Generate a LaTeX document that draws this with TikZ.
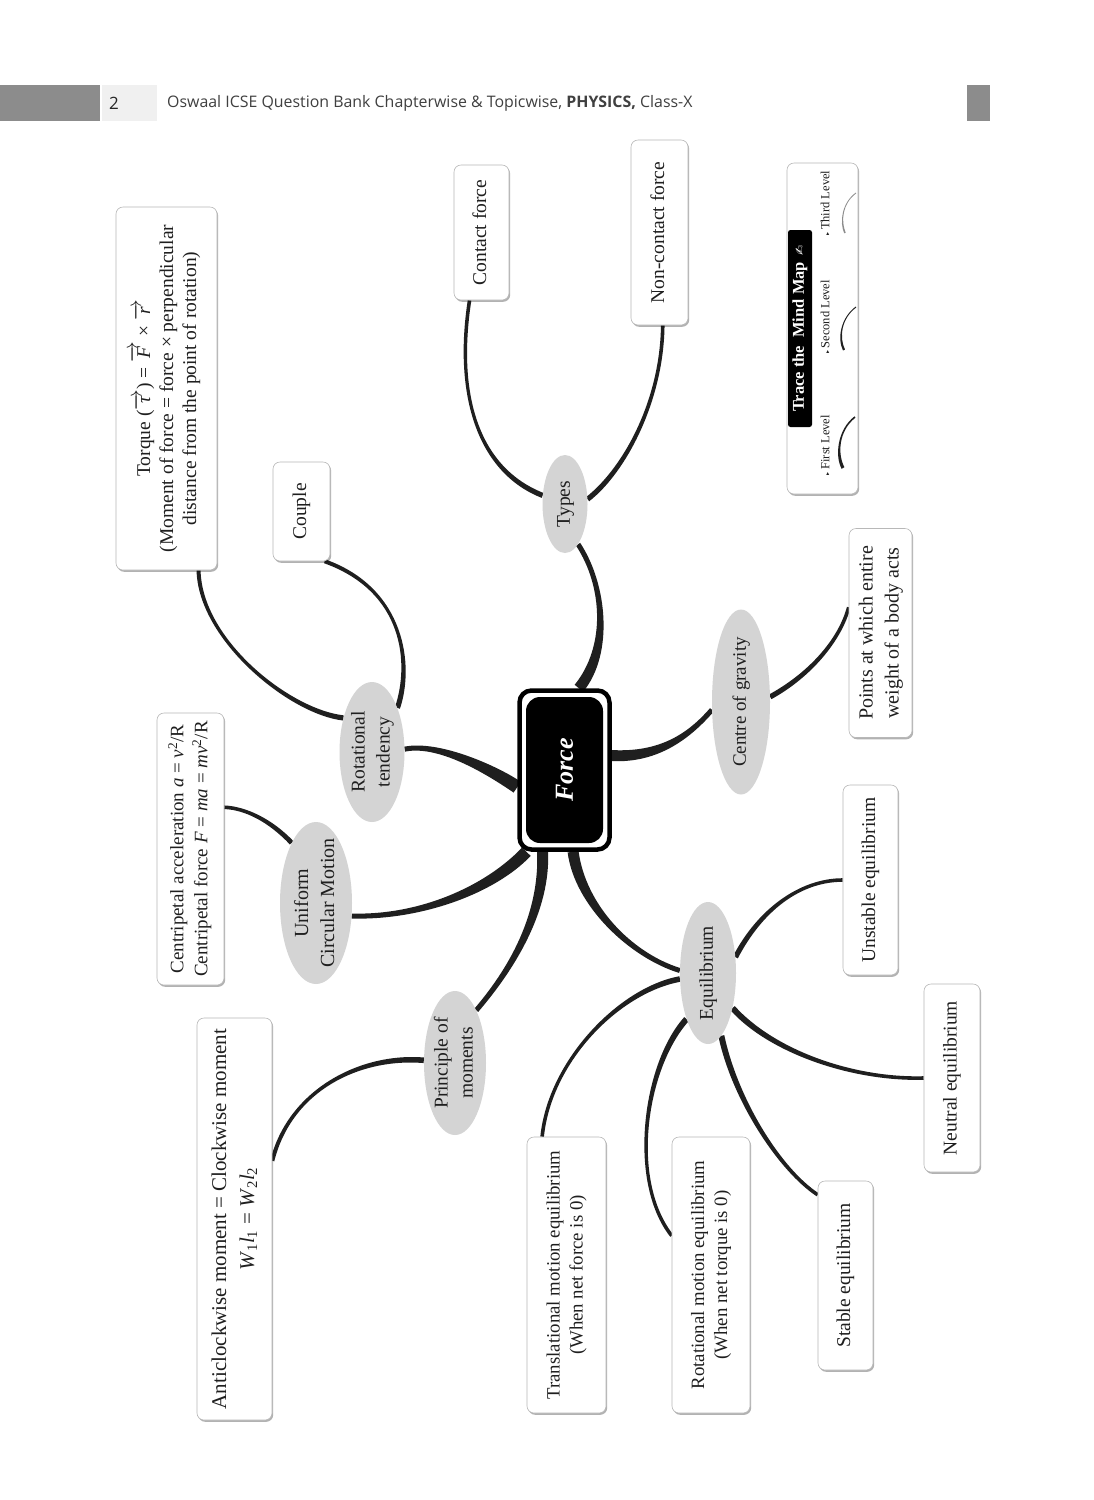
\documentclass[tikz,border=0pt]{standalone}
\usepackage{amsmath,amssymb}
\usepackage{graphicx}
\usepackage{fontspec}
\setmainfont{Liberation Serif}
\newfontfamily\hdrfont{Open Sans}
\newfontfamily\symfont{DejaVu Sans}
\usetikzlibrary{calc,shapes.geometric,shadows,backgrounds}
\definecolor{hdrdark}{RGB}{140,140,140}
\definecolor{hdrlight}{RGB}{240,240,240}
\newcommand\vtext[3]{\rotatebox{90}{\fontsize{#1}{#2}\selectfont\begin{tabular}{@{}c@{}}#3\end{tabular}}}
\newcommand\brushline[7][]{%
 \fill[brushcol,#1] ($(#2)!#6!90:(#3)$) .. controls ($(#3)!#6!-90:(#2)$) and ($(#4)!#7!90:(#5)$) .. ($(#5)!#7!-90:(#4)$) -- ($(#5)!#7!90:(#4)$) .. controls ($(#4)!#7!-90:(#5)$) and ($(#3)!#6!90:(#2)$) .. ($(#2)!#6!-90:(#3)$) -- cycle;}
\tikzset{
  leaf/.style={draw=black!28, line width=0.6pt, fill=white, rounded corners=7pt, inner sep=0pt, align=center, text=black!88,
    drop shadow={shadow xshift=1.2pt, shadow yshift=-1.8pt, opacity=0.3, fill=black}},
  hub/.style={ellipse, fill=black!17, inner sep=0pt},
  hubtext/.style={inner sep=0pt, text=black!88},
  brushcol/.style={fill=black!88},
}
\begin{document}
\begin{tikzpicture}[x=1pt,y=-1pt]
\useasboundingbox (0,0) rectangle (1093,1500);
% header
\fill[hdrdark] (0,85) rectangle (100,121);
\fill[hdrlight] (102,85) rectangle (157,121);
\fill[hdrdark] (967,85) rectangle (990,121);
\node[font=\hdrfont\fontsize{17}{20}\selectfont, text=black!85] (pgnum) at (114,103) {2};
\node[anchor=west, font=\hdrfont\fontsize{15.9}{18}\selectfont, text=black!75, inner sep=0] (hdr) at (167,103) {Oswaal ICSE Question Bank Chapterwise \& Topicwise, \textbf{PHYSICS,} Class-X};

% central node
\node[draw=black, line width=4.5pt, fill=white, rounded corners=12pt, minimum width=90, minimum height=159, inner sep=0] (force) at (564.5,770) {};
\node[fill=black, rounded corners=14pt, minimum width=77, minimum height=146, inner sep=0, text=white] (forcein) at (564.5,770) {\rotatebox{90}{\fontsize{26}{30}\selectfont\bfseries\itshape Force}};

% first level hubs
\node[hub, minimum width=45, minimum height=98] (types) at (565,504) {};
\node[hubtext] (typestxt) at (types) {\vtext{19.5}{24}{Types}};
\node[hub, minimum width=65, minimum height=140] (rt) at (372,752) {};
\node[hubtext] (rttxt) at (rt) {\vtext{19.5}{25}{Rotational\\tendency}};
\node[hub, minimum width=72, minimum height=162] (ucm) at (316,903) {};
\node[hubtext] (ucmtxt) at (ucm) {\vtext{20}{26}{Uniform\\Circular Motion}};
\node[hub, minimum width=62, minimum height=144] (pom) at (455,1063) {};
\node[hubtext] (pomtxt) at (pom) {\vtext{19.5}{25}{Principle of\\moments}};
\node[hub, minimum width=56, minimum height=142] (eq) at (708,973) {};
\node[hubtext] (eqtxt) at (eq) {\vtext{19.5}{24}{Equilibrium}};
\node[hub, minimum width=58, minimum height=185] (cog) at (741,702) {};
\node[hubtext] (cogtxt) at (cog) {\vtext{19}{24}{Centre of gravity}};

% leaves
\node[leaf, minimum width=55, minimum height=135] (cf) at (481.5,232.5) {\vtext{19.5}{23}{Contact force}};
\node[leaf, minimum width=57, minimum height=185] (nc) at (659.5,232.5) {\vtext{19.5}{23}{Non-contact force}};
\node[leaf, minimum width=101, minimum height=363] (torque) at (166.5,388.5) {\vtext{19.5}{23}{Torque ($\overrightarrow{\textit{τ}}$) = $\overrightarrow{\textit{F}}$ × $\overrightarrow{\textit{r}}$\\(Moment of force = force × perpendicular\\distance from the point of rotation)}};
\node[leaf, minimum width=57, minimum height=99] (couple) at (301.5,511.5) {\vtext{19.5}{23}{Couple}};
\node[leaf, minimum width=67, minimum height=272] (cp) at (190.5,849) {\vtext{19}{24}{Centripetal acceleration \textit{a} = \textit{v}\textsuperscript{2}/R\\Centripetal force \textit{F} = \textit{ma} = \textit{mv}\textsuperscript{2}/R}};
\node[leaf, minimum width=75, minimum height=402] (ac) at (234.5,1219) {\vtext{21}{28}{Anticlockwise moment = Clockwise moment\\\textit{W}\textsubscript{1}\textit{l}\textsubscript{1} = \textit{W}\textsubscript{2}\textit{l}\textsubscript{2}}};
\node[leaf, minimum width=63, minimum height=209] (pts) at (880.5,633) {\vtext{20}{26}{Points at which entire\\weight of a body acts}};
\node[leaf, minimum width=55, minimum height=190] (us) at (870.5,880) {\vtext{19.5}{23}{Unstable equilibrium}};
\node[leaf, minimum width=56, minimum height=188] (nt) at (952,1078) {\vtext{19.5}{23}{Neutral equilibrium}};
\node[leaf, minimum width=55, minimum height=189] (st) at (845.5,1275.5) {\vtext{19.5}{23}{Stable equilibrium}};
\node[leaf, minimum width=79, minimum height=276] (tm) at (566.5,1275) {\vtext{18.8}{23}{Translational motion equilibrium\\(When net force is 0)}};
\node[leaf, minimum width=78, minimum height=276] (rm) at (711,1275) {\vtext{18.8}{23}{Rotational motion equilibrium\\(When net torque is 0)}};

% legend
\node[leaf, minimum width=71, minimum height=331] (legend) at (822.5,328.5) {};
\node[fill=black, rounded corners=2.5pt, minimum width=24, minimum height=197, inner sep=0, text=white] (lgtitle) at (800,328.5) {\rotatebox{90}{\fontsize{16.5}{18}\selectfont\bfseries Trace the\ \ Mind Map\, {\symfont\fontsize{12}{14}\selectfont ✍}}};
\node[inner sep=0, text=black!88] (lv1) at (825,445) {\rotatebox{90}{{\symfont\fontsize{6}{7}\selectfont ▸}\ \fontsize{12.5}{14}\selectfont First Level}};
\node[inner sep=0, text=black!88] (lv2) at (825,317) {\rotatebox{90}{{\symfont\fontsize{6}{7}\selectfont ▸}\ \fontsize{12.5}{14}\selectfont Second Level}};
\node[inner sep=0, text=black!88] (lv3) at (825,203) {\rotatebox{90}{{\symfont\fontsize{6}{7}\selectfont ▸}\ \fontsize{12.5}{14}\selectfont Third Level}};
\coordinate (a1s) at (855,417); \coordinate (a1e) at (843,468);
\coordinate (a2s) at (856,307); \coordinate (a2e) at (844,350);
\coordinate (a3s) at (856,193); \coordinate (a3e) at (845,233);
\brushline{a1s}{838,430}{836,455}{a1e}{0.8pt}{1.6pt}
\brushline{a2s}{841,318}{838,338}{a2e}{0.5pt}{1.1pt}
\brushline[fill=black!45]{a3s}{842,203}{840,222}{a3e}{0.4pt}{0.8pt}

% connectors
\begin{pgfonlayer}{background}
\fill[white] (0,0) rectangle (1093,1500);
\brushline{force.80}{610,650}{605,585}{types.-72}{5.5pt}{2.5pt}
\brushline{types.159}{478,470}{455,395}{cf.-100}{2.6pt}{1.8pt}
\brushline{types.12}{625,470}{662,400}{nc.-88}{2.6pt}{1.8pt}
\brushline{force.200}{495,772}{440,742}{rt.5}{6.5pt}{2.5pt}
\brushline{rt.130}{290,712}{200,640}{torque.-80.5}{2.6pt}{2pt}
\brushline{rt.60}{412,665}{405,590}{couple.-65}{2.6pt}{2pt}
\brushline{force.-115}{490,890}{420,918}{ucm.-20}{6pt}{2.5pt}
\brushline{ucm.112}{270,820}{245,808}{cp.51}{2.4pt}{1.8pt}
\brushline{force.-105}{545,910}{515,965}{pom.68}{5.5pt}{2.5pt}
\brushline{pom.175}{360,1055}{290,1090}{ac.57.6}{2.8pt}{2pt}
\brushline{force.-84}{580,905}{630,955}{eq.175}{5.5pt}{2.5pt}
\brushline{force.17}{660,758}{690,735}{cog.195}{5.5pt}{2.5pt}
\brushline{cog.10}{810,675}{840,640}{pts.141.6}{2.6pt}{1.8pt}
\brushline{eq.30}{760,910}{800,880}{us.west}{2.6pt}{1.8pt}
\brushline{eq.-55}{770,1050}{850,1080}{nt.west}{3pt}{1.8pt}
\brushline{eq.-78}{735,1100}{780,1170}{st.109.5}{3pt}{1.8pt}
\brushline{eq.245}{645,1065}{628,1180}{rm.135.7}{3pt}{1.8pt}
\brushline{eq.192}{620,990}{550,1060}{tm.100.5}{2.8pt}{1.8pt}
\end{pgfonlayer}
\end{tikzpicture}
\end{document}
